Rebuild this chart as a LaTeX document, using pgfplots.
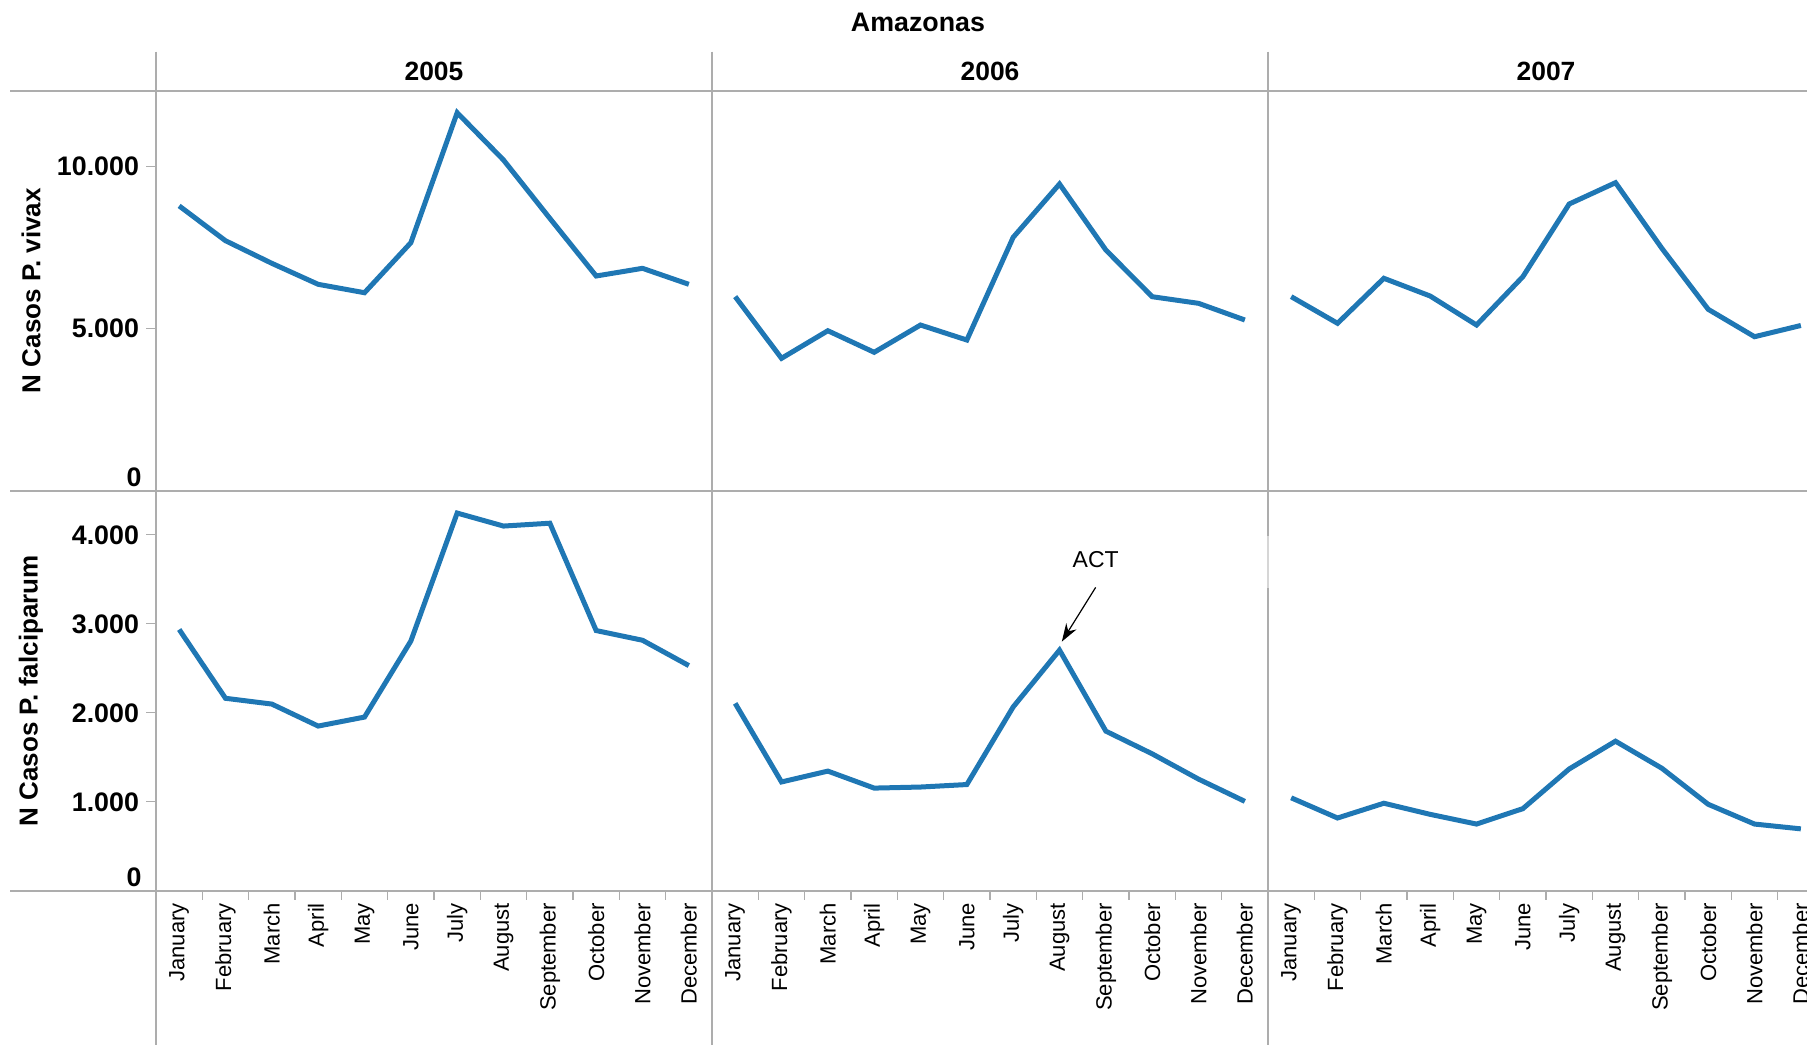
\documentclass[border=0pt]{standalone}
\usepackage{fontspec}
\setmainfont{Liberation Sans}
\usepackage{pgfplots}
\usepackage{pgfplotstable}
\pgfplotsset{compat=1.18}
\usetikzlibrary{arrows.meta}

\definecolor{linec}{HTML}{1F77B4}
\definecolor{gridc}{HTML}{ADADAD}

% monthly cases, Amazonas
\pgfplotstableread{
m v05 v06 v07 f05 f06 f07
0 8790 5990 5990 2936 2106 1045
1 7716 4086 5167 2163 1223 818
2 7018 4938 6556 2098 1345 984
3 6370 4272 6009 1851 1154 859
4 6111 5114 5114 1952 1166 750
5 7654 4651 6605 2806 1194 923
6 11667 7821 8849 4244 2066 1369
7 10207 9466 9507 4098 2704 1681
8 8407 7429 7482 4130 1794 1377
9 6627 5988 5599 2924 1539 972
10 6864 5784 4753 2815 1255 750
11 6370 5269 5100 2530 1005 696
}\cases

\newcommand{\tickfont}{\bfseries\fontsize{13.4}{15}\selectfont}
\newcommand{\monthfont}{\fontsize{11}{12}\selectfont}

\pgfplotsset{
  panel/.style={
    scale only axis, width=278pt, height=200pt,
    xmin=-0.5, xmax=11.5, ymin=0,
    axis line style={draw=none},
    tick align=outside,
    xtick pos=bottom, ytick pos=left,
    scaled y ticks=false,
    major tick length=5pt,
    minor tick length=4.5pt,
    tick style={gridc, line width=0.6pt},
    xtick=\empty, ytick=\empty,
    clip=false,
  },
  toprow/.style={panel, ymax=12346},
  botrow/.style={panel, ymax=4494,
    xtick={0,...,11},
    xticklabels={January,February,March,April,May,June,July,August,September,October,November,December},
    major x tick style={draw=none},
    minor xtick={0.5,1.5,...,10.5},
    minor x tick style={gridc, line width=0.6pt},
    xticklabel style={rotate=90, anchor=east, font=\monthfont, inner sep=1pt},
  },
  firstcol/.style={
    yticklabel style={font=\tickfont, text=black},
    extra y ticks={0}, extra y tick labels={0},
    extra y tick style={yticklabel style={anchor=south east, inner sep=2pt}},
  },
  serie/.style={linec, line width=2.5pt},
}

\begin{document}
\begin{tikzpicture}
\path[use as bounding box] (0,0) rectangle (903.5pt,-522.5pt);

% facet frame, in pixels of the reference
\begin{scope}[x=0.5pt, y=-0.5pt]
  \draw[gridc, line width=0.8pt] (10,90.7) -- (1807,90.7);
  \draw[gridc, line width=0.8pt] (10,490.7) -- (1807,490.7);
  \draw[gridc, line width=0.8pt] (10,890.8) -- (1807,890.8);
  \foreach \xx in {156,712,1268}
    \draw[gridc, line width=0.8pt] (\xx,51.7) -- (\xx,1045);
  \fill[white, opacity=0.5] (916,536) rectangle (1272,588);

  \node[font=\bfseries\fontsize{13.4}{15}\selectfont] at (918,22.7) {Amazonas};
  \node[font=\bfseries\fontsize{13.2}{15}\selectfont] at (434,71) {2005};
  \node[font=\bfseries\fontsize{13.2}{15}\selectfont] at (990,71) {2006};
  \node[font=\bfseries\fontsize{13.2}{15}\selectfont] at (1546,71) {2007};
  \node[font=\bfseries\fontsize{13}{15}\selectfont, rotate=90] at (31,290.7) {N Casos P. vivax};
  \node[font=\bfseries\fontsize{13}{15}\selectfont, rotate=90] at (31,690.8) {N Casos P. falciparum};
\end{scope}

% P. vivax
\begin{axis}[toprow, firstcol, at={(78pt,-245.35pt)}, anchor=south west,
  ytick={5000,10000}, yticklabels={5.000,10.000}]
\addplot[serie] table[x=m, y=v05] {\cases};
\end{axis}
\begin{axis}[toprow, at={(356pt,-245.35pt)}, anchor=south west]
\addplot[serie] table[x=m, y=v06] {\cases};
\end{axis}
\begin{axis}[toprow, at={(634pt,-245.35pt)}, anchor=south west]
\addplot[serie] table[x=m, y=v07] {\cases};
\end{axis}

% P. falciparum
\begin{axis}[botrow, firstcol, at={(78pt,-445.4pt)}, anchor=south west,
  ytick={1000,2000,3000,4000}, yticklabels={1.000,2.000,3.000,4.000}]
\addplot[serie] table[x=m, y=f05] {\cases};
\end{axis}
\begin{axis}[botrow, at={(356pt,-445.4pt)}, anchor=south west]
\addplot[serie] table[x=m, y=f06] {\cases};
\node[text=black, font=\fontsize{11.5}{13}\selectfont] at (axis cs:7.78,3717) {ACT};
\draw[black, line width=0.6pt, -{Stealth[length=9pt, width=6pt]}]
  (axis cs:7.78,3409) -- (axis cs:7.05,2800);
\end{axis}
\begin{axis}[botrow, at={(634pt,-445.4pt)}, anchor=south west]
\addplot[serie] table[x=m, y=f07] {\cases};
\end{axis}
\end{tikzpicture}
\end{document}
